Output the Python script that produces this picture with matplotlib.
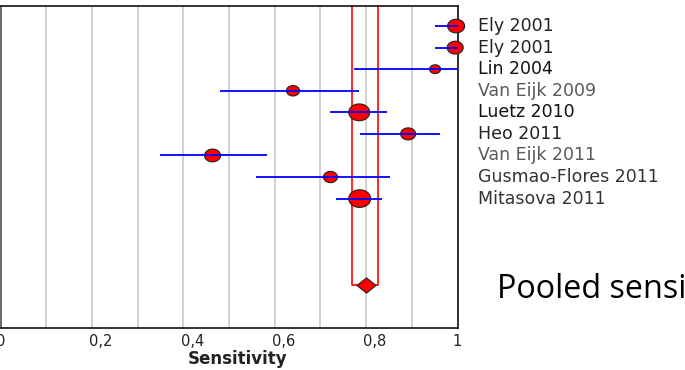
import numpy as np
import matplotlib
matplotlib.use("Agg")
import matplotlib.pyplot as plt
from matplotlib.path import Path
from matplotlib.transforms import ScaledTranslation

# ---- data ----
studies = ["Ely 2001", "Ely 2001", "Lin 2004", "Van Eijk 2009", "Luetz 2010",
           "Heo 2011", "Van Eijk 2011", "Gusmao-Flores 2011", "Mitasova 2011"]
sens = [0.997, 0.995, 0.951, 0.640, 0.785, 0.892, 0.464, 0.722, 0.786]
ci_low = [0.950, 0.950, 0.773, 0.480, 0.720, 0.786, 0.350, 0.558, 0.735]
ci_high = [1.000, 1.000, 1.000, 0.784, 0.846, 0.961, 0.584, 0.853, 0.835]
weights = [17, 16, 11, 13, 21, 15, 16, 14, 22]   # marker width (px)
pooled_est = 0.80
pooled_low = 0.770
pooled_high = 0.825
tick_vals = [0, 0.2, 0.4, 0.6, 0.8, 1.0]
tick_labels = ["0", "0,2", "0,4", "0,6", "0,8", "1"]
overlay_text = "Pooled sensi"

# ---- styles ----
label_colors = ["#222222", "#222222", "#111111", "#5a5a5a", "#111111",
                "#222222", "#5a5a5a", "#333333", "#333333"]

W, H = 685, 370
fig = plt.figure(figsize=(W / 100, H / 100), dpi=100)
ax = fig.add_axes([0.5 / W, 1 - 328 / H, 457 / W, (328 - 6) / H])

rows = np.arange(len(studies))
pooled_row = 12
ax.set_xlim(0, 1)
ax.set_ylim(14, -0.93)

# grid
ax.set_xticks(np.arange(0, 1.001, 0.1), minor=True)
ax.set_xticks(tick_vals)
ax.set_xticklabels(tick_labels, fontsize=10.5, family="DejaVu Sans", color="#222222")
ax.tick_params(axis="x", which="both", length=0, pad=4)
ax.set_yticks([])
ax.grid(axis="x", which="both", color="#c8c8c8", lw=1.2, zorder=0)
ax.set_axisbelow(True)

# shift decimal labels slightly right like reference
for lab in ax.get_xticklabels():
    if "," in lab.get_text():
        lab.set_transform(lab.get_transform() + ScaledTranslation(9 / 100, 0, fig.dpi_scale_trans))

# pooled box (red)
ax.plot([pooled_low, pooled_low, pooled_high, pooled_high],
        [-0.93, pooled_row, pooled_row, -0.93], color="red", lw=1.2, zorder=2,
        clip_on=False)

# ellipse marker
t = np.linspace(0, 2 * np.pi, 60)
ell = Path(np.column_stack([np.cos(t), 0.8 * np.sin(t)]), closed=True)
sizes = [(w * 0.72) ** 2 for w in weights]
ax.scatter(sens, rows, s=sizes, marker=ell, facecolor="red", edgecolor="#202020",
           linewidths=0.8, zorder=3, clip_on=False)

# CI lines
ax.hlines(rows, ci_low, ci_high, color="#0000ff", lw=1.3, zorder=4)

# diamond
dia = Path([(0, 0.8), (1, 0), (0, -0.8), (-1, 0), (0, 0.8)], closed=True)
ax.scatter([pooled_est], [pooled_row], s=(19 * 0.72) ** 2, marker=dia,
           facecolor="red", edgecolor="#202020", linewidths=0.8, zorder=5)

# study labels
for r, name, c in zip(rows, studies, label_colors):
    ax.annotate(name, xy=(1, r), xycoords=("axes fraction", "data"),
                xytext=(21 * 0.72, 0), textcoords="offset points",
                ha="left", va="center", fontsize=12.5, family="DejaVu Sans",
                color=c, annotation_clip=False)

ax.set_xlabel("Sensitivity", fontsize=12, fontweight="bold", family="DejaVu Sans",
              color="#222222", va="center")
ax.xaxis.set_label_coords(237.5 / 457, (328 - 359) / 322)

for side in ["top", "right", "bottom"]:
    ax.spines[side].set_color("#111111")
    ax.spines[side].set_linewidth(1.2)
ax.spines["left"].set_color("#555555")
ax.spines["left"].set_linewidth(1.2)

fig.text(497 / W, 1 - 290 / H, overlay_text, fontsize=23.3,
         family="Open Sans", color="black", ha="left", va="center")

fig.savefig("out.png", dpi=100)
